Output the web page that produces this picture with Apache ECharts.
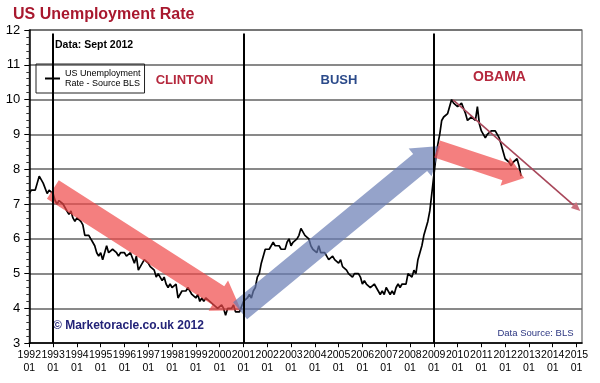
<!DOCTYPE html>
<html><head><meta charset="utf-8">
<script src="https://cdn.jsdelivr.net/npm/echarts@6/dist/echarts.min.js"></script>
<style>html,body{margin:0;padding:0;background:#fff}#c{width:600px;height:383px}</style>
</head><body><div id="c"></div>
<script>
// Monthly US unemployment rate (%), starting Jan 1992
const startYear = 1992;
const rates1992 = [7.3,7.4,7.4,7.4,7.6,7.8,7.7,7.6,7.6,7.3,7.4,7.4];
const ratesClinton = [
  7.3,7.1,7.0,7.1,7.1,7.0,6.9,6.8,6.7,6.8,6.6,6.5,
  6.6,6.6,6.5,6.4,6.1,6.1,6.1,6.0,5.9,5.8,5.6,5.5,
  5.6,5.4,5.4,5.8,5.6,5.6,5.7,5.7,5.6,5.5,5.6,5.6,
  5.6,5.5,5.5,5.6,5.6,5.3,5.5,5.1,5.2,5.2,5.4,5.4,
  5.3,5.2,5.2,5.1,4.9,5.0,4.9,4.8,4.9,4.7,4.6,4.7,
  4.6,4.6,4.7,4.3,4.4,4.5,4.5,4.5,4.6,4.5,4.4,4.4,
  4.3,4.4,4.2,4.3,4.2,4.3,4.3,4.2,4.2,4.1,4.1,4.0,
  4.0,4.1,4.0,3.8,4.0,4.0,4.0,4.1,3.9,3.9,3.9,3.9];
const ratesBush = [
  4.2,4.2,4.3,4.4,4.3,4.5,4.6,4.9,5.0,5.3,5.5,5.7,
  5.7,5.7,5.7,5.9,5.8,5.8,5.8,5.7,5.7,5.7,5.9,6.0,
  5.8,5.9,5.9,6.0,6.1,6.3,6.2,6.1,6.1,6.0,5.8,5.7,
  5.7,5.6,5.8,5.6,5.6,5.6,5.5,5.4,5.4,5.5,5.4,5.4,
  5.3,5.4,5.2,5.2,5.1,5.0,5.0,4.9,5.0,5.0,5.0,4.9,
  4.7,4.8,4.7,4.7,4.6,4.6,4.7,4.7,4.5,4.4,4.5,4.4,
  4.6,4.5,4.4,4.5,4.4,4.6,4.7,4.6,4.7,4.7,4.7,5.0,
  5.0,4.9,5.1,5.0,5.4,5.6,5.8,6.1,6.1,6.5,6.8,7.3];
const ratesObama = [
  7.8,8.3,8.7,9.0,9.4,9.5,9.5,9.6,9.8,10.0,9.9,9.9,
  9.8,9.8,9.9,9.9,9.6,9.4,9.4,9.5,9.5,9.4,9.8,9.3,
  9.1,9.0,8.9,9.0,9.0,9.1,9.1,9.1,9.0,8.9,8.7,8.5,
  8.3,8.3,8.2,8.1,8.2,8.2,8.3,8.1,7.8];

const presidentStarts = [1993, 2001, 2009];
// Trend arrows in data space: [fromYear, fromRate, toYear, toRate]
const arrowClinton = [1992.99, 7.42, 2000.90, 3.95];
const arrowBush    = [2000.86, 3.93, 2009.27, 8.67];
const arrowObama   = [2009.14, 8.58, 2012.80, 7.75];
const arrowTrend   = [2009.81, 9.99, 2015.16, 6.80];

const yMin = 3, yMax = 12, xMin = 1992, xMax = 2015.23;

const allRates = rates1992.concat(ratesClinton, ratesBush, ratesObama);
const lineData = allRates.map((v, i) => [startYear + i / 12, v]);

const FONT = 'Liberation Sans, Arial, sans-serif';

function arrowRender(shaftW, headW, headL, color) {
  return function (params, api) {
    const p1 = api.coord([api.value(0), api.value(1)]);
    const p2 = api.coord([api.value(2), api.value(3)]);
    const dx = p2[0] - p1[0], dy = p2[1] - p1[1], len = Math.hypot(dx, dy);
    const ux = dx / len, uy = dy / len, nx = -uy, ny = ux;
    const bx = p2[0] - ux * headL, by = p2[1] - uy * headL;
    const s = shaftW / 2, h = headW / 2;
    const pts = [
      [p1[0] + nx * s, p1[1] + ny * s], [bx + nx * s, by + ny * s], [bx + nx * h, by + ny * h],
      [p2[0], p2[1]],
      [bx - nx * h, by - ny * h], [bx - nx * s, by - ny * s], [p1[0] - nx * s, p1[1] - ny * s]];
    return { type: 'polygon', shape: { points: pts }, style: { fill: color } };
  };
}
function thinArrowRender(params, api) {
  const p1 = api.coord([api.value(0), api.value(1)]);
  const p2 = api.coord([api.value(2), api.value(3)]);
  const dx = p2[0] - p1[0], dy = p2[1] - p1[1], len = Math.hypot(dx, dy);
  const ux = dx / len, uy = dy / len, nx = -uy, ny = ux;
  const hl = 9, hw = 4;
  const bx = p2[0] - ux * hl, by = p2[1] - uy * hl;
  return {
    type: 'group', children: [
      { type: 'line', shape: { x1: p1[0], y1: p1[1], x2: bx, y2: by }, style: { stroke: '#a8475a', lineWidth: 1.6 } },
      { type: 'polygon', shape: { points: [[p2[0], p2[1]], [bx + nx * hw, by + ny * hw], [bx - nx * hw, by - ny * hw]] }, style: { fill: '#c9707d' } }
    ]
  };
}

const chart = echarts.init(document.getElementById('c'), null, { renderer: 'canvas' });
const seriesName = 'US Unemployment\nRate - Source BLS';
chart.setOption({
  animation: false,
  backgroundColor: '#fff',
  grid: { left: 29.3, right: 18, top: 30, bottom: 39.8, show: true, borderColor: '#666', borderWidth: 1.2 },
  legend: {
    data: [seriesName], left: 36, top: 64, orient: 'vertical',
    padding: [5, 4, 5, 9], borderColor: '#222', borderWidth: 1,
    icon: 'rect', itemWidth: 15, itemHeight: 2,
    textStyle: { fontSize: 9, lineHeight: 9.5, color: '#000', fontFamily: FONT }
  },
  xAxis: {
    type: 'value', min: xMin, max: xMax, interval: 1,
    axisLine: { lineStyle: { color: '#000', width: 1.5 } },
    axisTick: { show: true, length: 4, lineStyle: { color: '#000', width: 1 } },
    splitLine: { show: false },
    axisLabel: {
      showMaxLabel: false, margin: 5, fontSize: 10.5, lineHeight: 13, color: '#000', fontFamily: FONT,
      formatter: v => Math.abs(v - Math.round(v)) < 1e-6 ? Math.round(v) + '\n01' : ''
    }
  },
  yAxis: {
    type: 'value', min: yMin, max: yMax, interval: 1,
    axisLine: { show: true, lineStyle: { color: '#000', width: 1.5 } },
    axisTick: { show: true, length: 5, lineStyle: { color: '#000' } },
    minorTick: { show: true, splitNumber: 5, length: 3, lineStyle: { color: '#333' } },
    splitLine: { show: true, lineStyle: { color: '#626262', width: 1.5 } },
    axisLabel: { margin: 9, fontSize: 13, color: '#000', fontFamily: FONT }
  },
  series: [
    {
      name: seriesName, type: 'line', data: lineData, showSymbol: false, color: '#000',
      lineStyle: { color: '#000', width: 1.7 }, z: 2,
      markLine: {
        silent: true, symbol: 'none', label: { show: false },
        lineStyle: { color: '#000', width: 2, type: 'solid' },
        data: presidentStarts.map(x => [{ coord: [x, yMin] }, { coord: [x, 11.9] }])
      }
    },
    { name: 'a1', type: 'custom', data: [arrowClinton], encode: { x: [0, 2], y: [1, 3] }, renderItem: arrowRender(22, 36, 27, 'rgba(240,72,72,0.7)'), z: 3 },
    { name: 'a2', type: 'custom', data: [arrowBush], encode: { x: [0, 2], y: [1, 3] }, renderItem: arrowRender(22, 36, 26, 'rgba(104,124,180,0.7)'), z: 4 },
    { name: 'a3', type: 'custom', data: [arrowObama], encode: { x: [0, 2], y: [1, 3] }, renderItem: arrowRender(18, 30, 20, 'rgba(240,72,72,0.7)'), z: 5 },
    { name: 'a4', type: 'custom', data: [arrowTrend], encode: { x: [0, 2], y: [1, 3] }, renderItem: thinArrowRender, z: 6 }
  ],
  graphic: [
    { type: 'text', x: 13, y: 15, style: { text: 'US Unemployment Rate', fill: '#a8182e', font: 'bold 16px ' + FONT, verticalAlign: 'middle' } },
    { type: 'text', x: 55, y: 45.5, z: 10, style: { text: 'Data: Sept 2012', fill: '#000', font: 'bold 10.5px ' + FONT, verticalAlign: 'middle' } },
    { type: 'text', x: 184.5, y: 80.5, style: { text: 'CLINTON', fill: '#b5283d', font: 'bold 13px ' + FONT, align: 'center', verticalAlign: 'middle' } },
    { type: 'text', x: 339, y: 80.5, style: { text: 'BUSH', fill: '#2b4a8a', font: 'bold 13px ' + FONT, align: 'center', verticalAlign: 'middle' } },
    { type: 'text', x: 499.5, y: 77.5, style: { text: 'OBAMA', fill: '#b5283d', font: 'bold 14px ' + FONT, align: 'center', verticalAlign: 'middle' } },
    { type: 'text', x: 53, y: 325.5, style: { text: '\u00a9 Marketoracle.co.uk 2012', fill: '#232378', font: 'bold 12px ' + FONT, verticalAlign: 'middle' } },
    { type: 'text', x: 573.5, y: 333, style: { text: 'Data Source: BLS', fill: '#2b3580', font: '9.5px ' + FONT, align: 'right', verticalAlign: 'middle' } }
  ]
});
</script></body></html>
